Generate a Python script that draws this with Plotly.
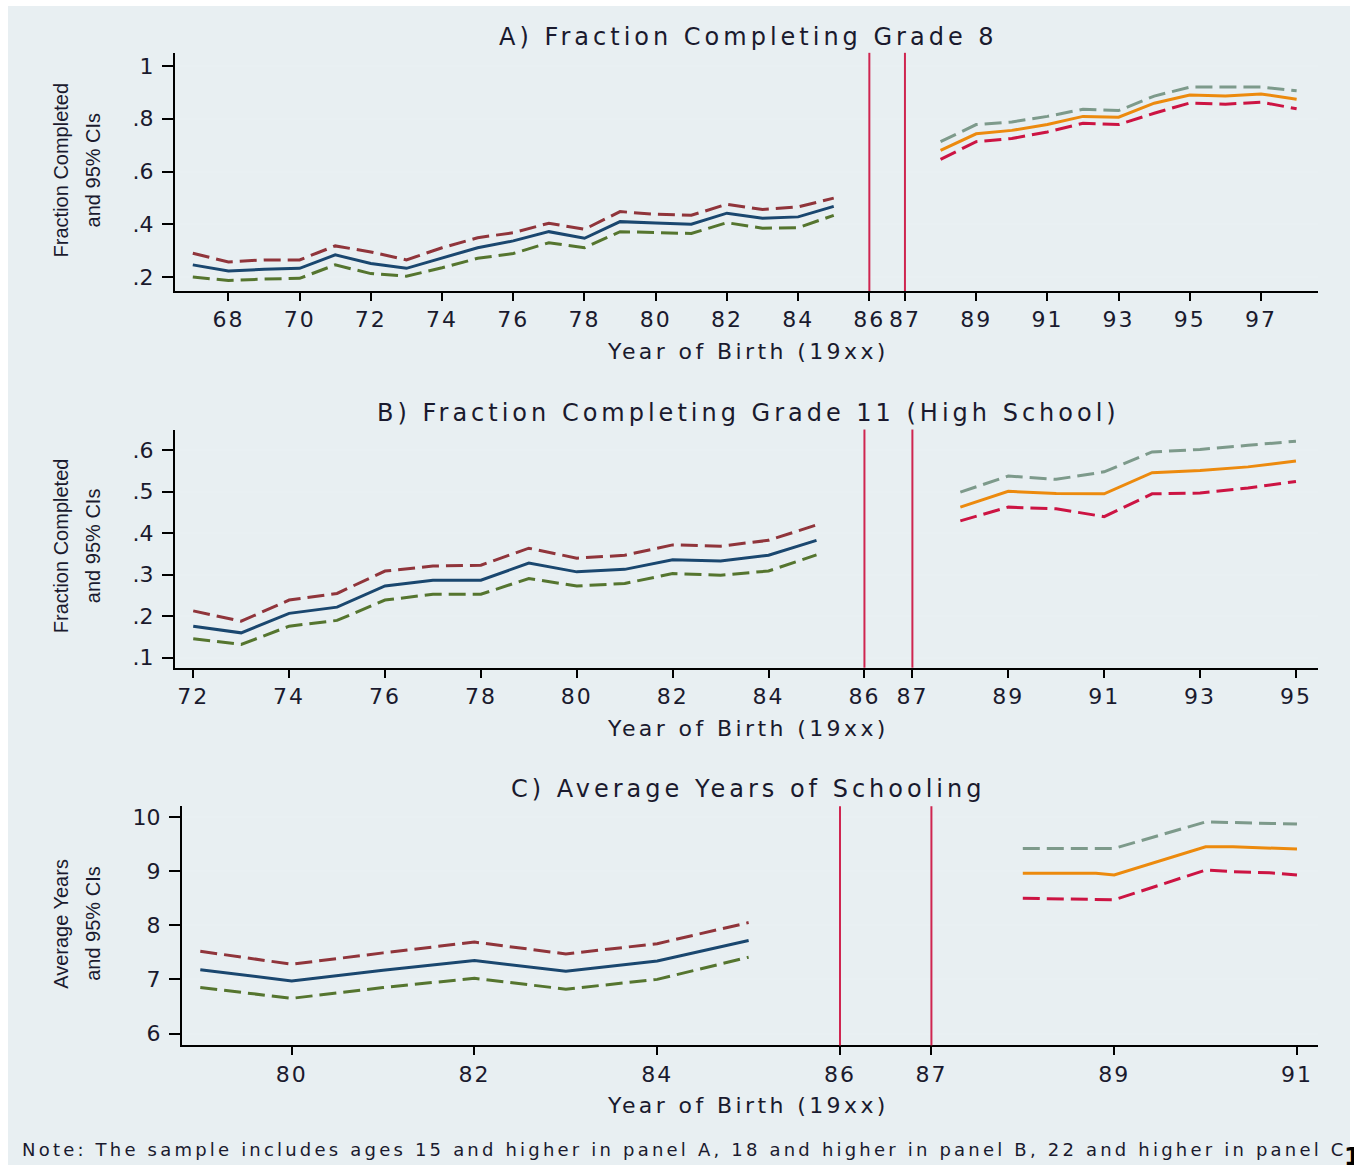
import plotly.graph_objects as go

W, H = 1354, 1168

# ---------------- Data ----------------
# Panel A: Fraction completing grade 8
a_pre_years = list(range(67, 86))
a_pre_mean = [0.246, 0.223, 0.229, 0.233, 0.284, 0.251, 0.233, 0.273, 0.311, 0.337,
              0.372, 0.347, 0.410, 0.405, 0.400, 0.442, 0.423, 0.428, 0.468]
a_pre_hi = [0.290, 0.257, 0.265, 0.265, 0.318, 0.295, 0.265, 0.311, 0.349, 0.368,
            0.404, 0.381, 0.448, 0.438, 0.434, 0.476, 0.456, 0.466, 0.499]
a_pre_lo = [0.200, 0.187, 0.192, 0.195, 0.246, 0.213, 0.203, 0.235, 0.271, 0.289,
            0.330, 0.311, 0.372, 0.368, 0.365, 0.406, 0.385, 0.387, 0.434]
a_post_years = list(range(88, 99))
a_post_mean = [0.680, 0.743, 0.756, 0.778, 0.809, 0.806, 0.859, 0.890, 0.886, 0.894, 0.874]
a_post_hi = [0.713, 0.778, 0.788, 0.809, 0.836, 0.831, 0.886, 0.920, 0.920, 0.920, 0.906]
a_post_lo = [0.646, 0.713, 0.725, 0.750, 0.783, 0.778, 0.821, 0.860, 0.855, 0.863, 0.838]
a_ticks = [68, 70, 72, 74, 76, 78, 80, 82, 84, 86, 87, 89, 91, 93, 95, 97]
a_ytick_vals = [0.2, 0.4, 0.6, 0.8, 1.0]
a_ytick_text = [".2", ".4", ".6", ".8", "1"]

# Panel B: Fraction completing grade 11
b_pre_years = list(range(72, 86))
b_pre_mean = [0.176, 0.160, 0.207, 0.222, 0.273, 0.287, 0.287, 0.328, 0.307, 0.313,
              0.336, 0.333, 0.347, 0.383]
b_pre_hi = [0.213, 0.188, 0.239, 0.255, 0.309, 0.321, 0.323, 0.364, 0.340, 0.347,
            0.372, 0.369, 0.383, 0.420]
b_pre_lo = [0.146, 0.132, 0.176, 0.190, 0.239, 0.253, 0.253, 0.291, 0.273, 0.279,
            0.303, 0.299, 0.309, 0.348]
b_post_years = list(range(88, 96))
b_post_mean = [0.463, 0.501, 0.496, 0.495, 0.546, 0.551, 0.560, 0.574]
b_post_hi = [0.499, 0.538, 0.530, 0.548, 0.596, 0.602, 0.612, 0.622]
b_post_lo = [0.430, 0.463, 0.459, 0.440, 0.495, 0.497, 0.509, 0.525]
b_ticks = [72, 74, 76, 78, 80, 82, 84, 86, 87, 89, 91, 93, 95]
b_ytick_vals = [0.1, 0.2, 0.3, 0.4, 0.5, 0.6]
b_ytick_text = [".1", ".2", ".3", ".4", ".5", ".6"]

# Panel C: Average years of schooling
c_pre_years = [79, 80, 81, 82, 83, 84, 85]
c_pre_mean = [7.18, 6.97, 7.17, 7.35, 7.15, 7.34, 7.72]
c_pre_hi = [7.52, 7.28, 7.49, 7.69, 7.47, 7.66, 8.05]
c_pre_lo = [6.85, 6.65, 6.85, 7.02, 6.82, 7.00, 7.41]
c_post_years = [88, 88.8, 89, 90, 90.3, 90.7, 91]
c_post_mean = [8.96, 8.96, 8.93, 9.45, 9.45, 9.42, 9.41]
c_post_hi = [9.42, 9.42, 9.42, 9.91, 9.90, 9.88, 9.87]
c_post_lo = [8.50, 8.47, 8.47, 9.02, 8.99, 8.97, 8.93]
c_ticks = [80, 82, 84, 86, 87, 89, 91]
c_ytick_vals = [6, 7, 8, 9, 10]
c_ytick_text = ["6", "7", "8", "9", "10"]

titles = ["A) Fraction Completing Grade 8",
          "B) Fraction Completing Grade 11 (High School)",
          "C) Average Years of Schooling"]
ytitle_line1 = ["Fraction Completed", "Fraction Completed", "Average Years"]
ytitle_line2 = ["and 95% CIs", "and 95% CIs", "and 95% CIs"]
xtitle = "Year of Birth (19xx)"
note = ("Note: The sample includes ages 15 and higher in panel A, 18 and higher in panel B, "
        "22 and higher in panel C")
cutoff_years = [86, 87]

# ---------------- Styling ----------------
NAVY = "#1a476f"
MAROON = "#90353b"
GREEN = "#55752f"
ORANGE = "#ec8a0e"
GRAYGRN = "#7d9a8b"
CRIMSON = "#cc1443"
VLINE = "#cf2550"
BG = "#e8eff2"
GRID = "#e9f0f3"
TXT = "#1a1a2e"
FONT = "DejaVu Sans"
NARROW = "Liberation Sans"
DASH = "17px,7px"

# pixel boxes: (left, right, top, bottom)
boxes = [(175, 1318, 52, 291), (175, 1318, 430, 669), (182, 1318, 808, 1048)]
xranges = [[66.5, 98.6], [71.62, 95.46], [78.8, 91.23]]
yranges = [[0.147, 1.05], [0.076, 0.65], [5.78, 10.2]]
title_y = [36, 413, 791]
xtitle_y = [352, 730, 1108]
ytitle_yc = [170, 547, 926]

panels = [
    (a_pre_years, a_pre_mean, a_pre_hi, a_pre_lo, a_post_years, a_post_mean, a_post_hi, a_post_lo,
     a_ticks, a_ytick_vals, a_ytick_text),
    (b_pre_years, b_pre_mean, b_pre_hi, b_pre_lo, b_post_years, b_post_mean, b_post_hi, b_post_lo,
     b_ticks, b_ytick_vals, b_ytick_text),
    (c_pre_years, c_pre_mean, c_pre_hi, c_pre_lo, c_post_years, c_post_mean, c_post_hi, c_post_lo,
     c_ticks, c_ytick_vals, c_ytick_text),
]

fig = go.Figure()
layout = dict(
    width=W, height=H, margin=dict(l=0, r=0, t=0, b=0),
    paper_bgcolor="white", plot_bgcolor="white", showlegend=False,
    font=dict(family=FONT, color=TXT),
)
annotations = []
shapes = [dict(type="rect", xref="paper", yref="paper", x0=8 / W, x1=1350 / W,
               y0=0, y1=1 - 5 / H, fillcolor=BG, line=dict(width=0), layer="below")]

for i, p in enumerate(panels):
    (pre_x, pre_m, pre_h, pre_l, post_x, post_m, post_h, post_l, ticks, yv, yt) = p
    n = "" if i == 0 else str(i + 1)
    xa, ya = "x" + n, "y" + n
    series = [
        (pre_x, pre_h, MAROON, DASH), (pre_x, pre_l, GREEN, DASH), (pre_x, pre_m, NAVY, "solid"),
        (post_x, post_h, GRAYGRN, DASH), (post_x, post_l, CRIMSON, DASH), (post_x, post_m, ORANGE, "solid"),
    ]
    for xs, ys, col, dash in series:
        fig.add_trace(go.Scatter(x=xs, y=ys, mode="lines", xaxis=xa, yaxis=ya,
                                 line=dict(color=col, width=3, dash=dash), hoverinfo="skip"))
    l, r, t, b = boxes[i]
    layout["xaxis" + n] = dict(
        domain=[l / W, r / W], anchor=ya, range=xranges[i], tickmode="array",
        tickvals=ticks, ticktext=[str(v) for v in ticks], showgrid=False, zeroline=False,
        showline=True, linecolor="black", linewidth=2, ticks="outside", ticklen=8,
        tickwidth=2, tickcolor="black", tickfont=dict(size=22, family=FONT, color=TXT),
    )
    layout["yaxis" + n] = dict(
        domain=[1 - b / H, 1 - t / H], anchor=xa, range=yranges[i], tickmode="array",
        tickvals=yv, ticktext=yt, showgrid=True, gridcolor=GRID, gridwidth=2, zeroline=False,
        showline=True, linecolor="black", linewidth=2, ticks="outside", ticklen=11,
        tickwidth=2, tickcolor="black", tickfont=dict(size=22, family=FONT, color=TXT),
        ticklabelstandoff=4,
    )
    for cx in cutoff_years:
        shapes.append(dict(type="line", xref=xa, yref=ya + " domain", x0=cx, x1=cx, y0=0, y1=1,
                           line=dict(color=VLINE, width=2)))
    annotations.append(dict(text=titles[i], xref="paper", yref="paper", x=748 / W,
                            y=1 - title_y[i] / H, xanchor="center", yanchor="middle",
                            showarrow=False, font=dict(size=24, family=FONT, color=TXT)))
    annotations.append(dict(text=xtitle, xref="paper", yref="paper", x=748 / W,
                            y=1 - xtitle_y[i] / H, xanchor="center", yanchor="middle",
                            showarrow=False, font=dict(size=22, family=FONT, color=TXT)))
    for txt, xp in ((ytitle_line1[i], 61), (ytitle_line2[i], 93)):
        annotations.append(dict(text=txt, xref="paper", yref="paper", x=xp / W,
                                y=1 - ytitle_yc[i] / H, xanchor="center", yanchor="middle",
                                textangle=-90, showarrow=False,
                                font=dict(size=20, family=NARROW, color=TXT)))

annotations.append(dict(text=note, xref="paper", yref="paper", x=20 / W, y=1 - 1152 / H,
                        xanchor="left", yanchor="middle", align="left", showarrow=False,
                        font=dict(size=18, family=FONT, color=TXT)))
annotations.append(dict(text="<b>1</b>", xref="paper", yref="paper", x=1342 / W, y=1 - 1160 / H,
                        xanchor="left", yanchor="middle", showarrow=False,
                        font=dict(size=24, family=FONT, color="black")))

layout["annotations"] = annotations
layout["shapes"] = shapes
fig.update_layout(**layout)

# widen the lettering to match the horizontally stretched original
post = """
var gd = document.getElementById('{plot_id}');
function widen(){
  gd.querySelectorAll('.annotation-text').forEach(function(t){
    var s = t.textContent, ls = null;
    if (/^[ABC]\\)/.test(s)) ls = '4px';
    else if (s.indexOf('Year of Birth') === 0) ls = '3.4px';
    else if (s.indexOf('Note:') === 0) ls = '3.2px';
    if (ls) t.style.letterSpacing = ls;
  });
  gd.querySelectorAll('.xtick text, .x2tick text, .x3tick text').forEach(function(t){
    t.style.letterSpacing = '2px';
  });
}
widen();
gd.on('plotly_afterplot', widen);
"""
fig.write_html("out.html", post_script=post)
